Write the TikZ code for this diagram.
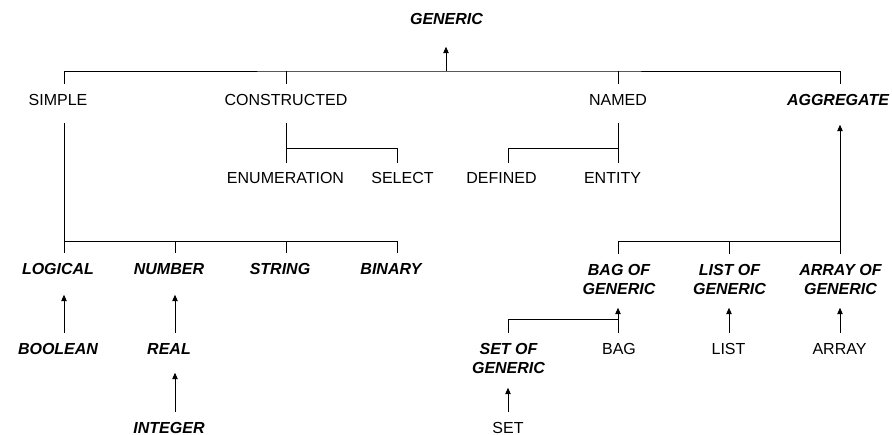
\documentclass[tikz,border=0pt]{standalone}
\usepackage{fontspec}
\setmainfont{Liberation Sans}
\usetikzlibrary{arrows.meta}
\begin{document}
\begin{tikzpicture}[x=1pt,y=-1pt,
  lbl/.style={inner sep=0pt,outer sep=0pt,text height=11.5pt,text depth=0pt,
    font=\fontsize{16}{19}\selectfont},
  ab/.style={lbl,font=\fontsize{16}{19}\selectfont\bfseries\itshape},
  ab2/.style={ab,align=center,text height=30.5pt},
  ln/.style={draw=black,line width=0.9pt},
  arr/.style={ln,-{Triangle[length=6.5pt,width=5.5pt]}}]
\useasboundingbox (0,0) rectangle (892,435);
% nodes
\node[ab] (GEN) at (446.5,19) {GENERIC};
\node[lbl] (SIMPLE) at (58,99.5) {SIMPLE};
\node[lbl] (CON) at (286,99.5) {CONSTRUCTED};
\node[lbl] (NAMED) at (618,99.5) {NAMED};
\node[ab] (AGG) at (838,99.5) {AGGREGATE};
\node[lbl] (ENUM) at (285.5,177.5) {ENUMERATION};
\node[lbl] (SELECT) at (402.5,177.5) {SELECT};
\node[lbl] (DEFINED) at (501.5,177.5) {DEFINED};
\node[lbl] (ENTITY) at (612.5,177.5) {ENTITY};
\node[ab] (LOGICAL) at (58,269) {LOGICAL};
\node[ab] (NUMBER) at (169,269) {NUMBER};
\node[ab] (STRING) at (280,269) {STRING};
\node[ab] (BINARY) at (391,269) {BINARY};
\node[ab] (BOOLEAN) at (58,348.5) {BOOLEAN};
\node[ab] (REAL) at (169,348.5) {REAL};
\node[ab] (INTEGER) at (169,427.5) {INTEGER};
\node[ab2] (BAGOF) at (619,279.5) {BAG OF\\GENERIC};
\node[ab2] (LISTOF) at (729.5,279.5) {LIST OF\\GENERIC};
\node[ab2] (ARRAYOF) at (840.5,279.5) {ARRAY OF\\GENERIC};
\node[ab2] (SETOF) at (508.5,358) {SET OF\\GENERIC};
\node[lbl] (BAG) at (619,348.5) {BAG};
\node[lbl] (LIST) at (728.5,348.5) {LIST};
\node[lbl] (ARRAY) at (839.5,348.5) {ARRAY};
\node[lbl] (SET) at (508,427.5) {SET};
% bus points
\coordinate (busT) at (446,71);
\coordinate (busS) at (64,241);
\coordinate (busC) at (286,148);
\coordinate (busN) at (618,148);
\coordinate (busA) at (840,241);
\coordinate (busB) at (618,319);
% top level
\draw[ln] ([xshift=6pt,yshift=10pt]SIMPLE.north) |- (busT) -| ([xshift=2pt,yshift=10pt]AGG.north);
\draw[ln] ([yshift=10pt]CON.north) -- (CON.north |- busT);
\draw[ln] ([yshift=10pt]NAMED.north) -- (NAMED.north |- busT);
\draw[arr] (busT) -- ([xshift=-0.5pt,yshift=-22pt]GEN.south);
% simple
\draw[ln] ([xshift=6pt,yshift=-17.5pt]SIMPLE.south) -- ([xshift=6pt,yshift=10pt]LOGICAL.north);
\draw[ln] (busS) -| ([xshift=6pt,yshift=10pt]BINARY.north);
\draw[ln] ([xshift=6pt,yshift=10pt]NUMBER.north) -- ([xshift=6pt]NUMBER.north |- busS);
\draw[ln] ([xshift=6pt,yshift=10pt]STRING.north) -- ([xshift=6pt]STRING.north |- busS);
\draw[arr] ([xshift=6pt,yshift=9.5pt]BOOLEAN.north) -- ([xshift=6pt,yshift=-20pt]LOGICAL.south);
\draw[arr] ([xshift=6pt,yshift=9.5pt]REAL.north) -- ([xshift=6pt,yshift=-20pt]NUMBER.south);
\draw[arr] ([xshift=6pt,yshift=9.5pt]INTEGER.north) -- ([xshift=6pt,yshift=-18.5pt]REAL.south);
% constructed
\draw[ln] ([yshift=-17.5pt]CON.south) -- ([xshift=0.5pt,yshift=9pt]ENUM.north);
\draw[ln] (busC) -| ([xshift=-5.5pt,yshift=9pt]SELECT.north);
% named
\draw[ln] ([yshift=-17.5pt]NAMED.south) -- ([xshift=5.5pt,yshift=9pt]ENTITY.north);
\draw[ln] (busN) -| ([xshift=6.5pt,yshift=9pt]DEFINED.north);
% aggregate
\draw[arr] ([xshift=-0.5pt,yshift=10pt]ARRAYOF.north) -- ([xshift=2pt,yshift=-19.5pt]AGG.south);
\draw[ln] (busA) -| ([xshift=-1pt,yshift=10pt]BAGOF.north);
\draw[ln] ([xshift=-0.5pt,yshift=10pt]LISTOF.north) -- ([xshift=-0.5pt]LISTOF.north |- busA);
\draw[arr] ([xshift=-1pt,yshift=9.5pt]BAG.north) -- ([xshift=-1pt,yshift=-13pt]BAGOF.south);
\draw[ln] (busB) -| ([xshift=-0.5pt,yshift=9.5pt]SETOF.north);
\draw[arr] ([xshift=0.5pt,yshift=9.5pt]LIST.north) -- ([xshift=-0.5pt,yshift=-13pt]LISTOF.south);
\draw[arr] ([xshift=0.5pt,yshift=9.5pt]ARRAY.north) -- ([xshift=-0.5pt,yshift=-13pt]ARRAYOF.south);
\draw[arr] ([yshift=9.5pt]SET.north) -- ([xshift=-0.5pt,yshift=-14.5pt]SETOF.south);
\end{tikzpicture}
\end{document}
